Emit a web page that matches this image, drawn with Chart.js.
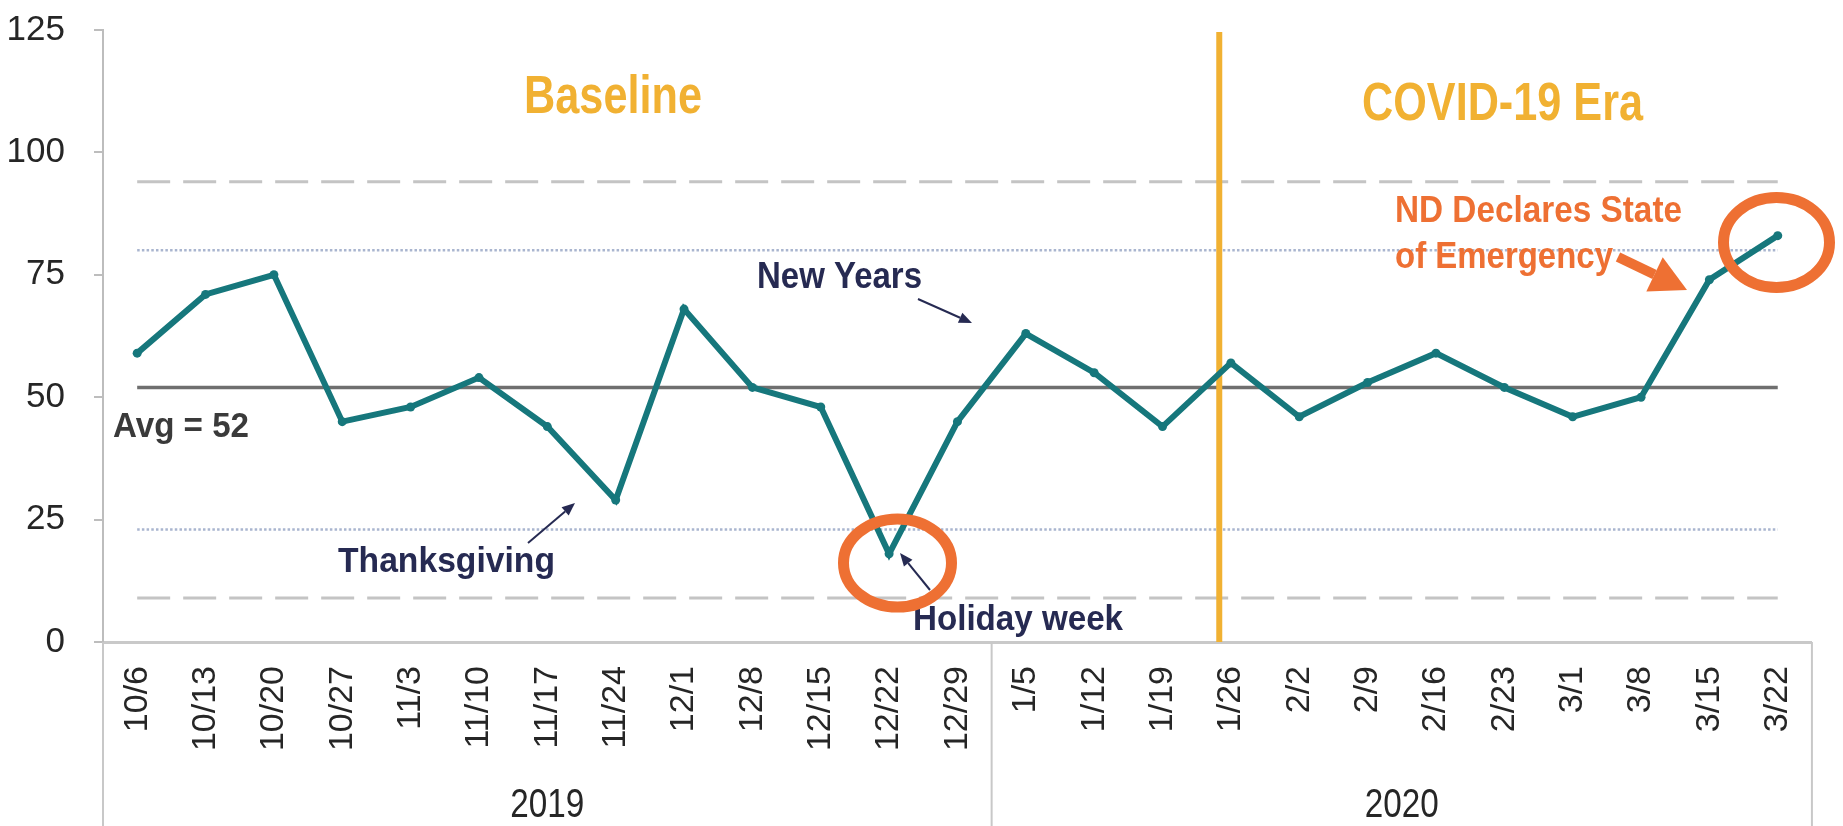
<!DOCTYPE html>
<html>
<head>
<meta charset="utf-8">
<script src="https://cdn.jsdelivr.net/npm/chart.js@4.4.1/dist/chart.umd.min.js"></script>
<style>
    html, body { margin: 0; padding: 0; background: #fff; }
    #wrap { width: 1843px; height: 826px; position: relative; }
</style>
</head>
<body>
<div id="wrap"><canvas id="visitsChart"></canvas></div>
<script>
(function() {
    'use strict';

    // weekly data, Oct 2019 - Mar 2020
    var weeks = ['10/6', '10/13', '10/20', '10/27', '11/3', '11/10', '11/17', '11/24', '12/1', '12/8', '12/15', '12/22', '12/29',
                 '1/5', '1/12', '1/19', '1/26', '2/2', '2/9', '2/16', '2/23', '3/1', '3/8', '3/15', '3/22'];
    var visits = [59, 71, 75, 45, 48, 54, 44, 29, 68, 52, 48, 18, 45,
                  63, 55, 44, 57, 46, 53, 59, 52, 46, 50, 74, 83];
    var years = ['2019', '2020'];
    var yearFirst = [0, 13];
    var yearLast = [12, 24];

    // control lines
    var avgValue = 52;
    var upperDashed = 94;
    var lowerDashed = 9;
    var upperDotted = 80;
    var lowerDotted = 23;

    var yMax = 125;
    var yStep = 25;

    var TEAL = '#16777C';
    var GOLD = '#F1B132';
    var ORANGE = '#EE7033';
    var NAVY = '#262A52';
    var FAMILY = '"Liberation Sans", Arial, sans-serif';

    // text squeezed to a given width (source uses a condensed face)
    function fitText(ctx, text, left, base, width, size, weight, color) {
        ctx.save();
        ctx.font = weight + ' ' + size + 'px ' + FAMILY;
        var w = ctx.measureText(text).width;
        ctx.translate(left, base);
        ctx.scale(width / w, 1);
        ctx.fillStyle = color;
        ctx.textAlign = 'left';
        ctx.textBaseline = 'alphabetic';
        ctx.fillText(text, 0, 0);
        ctx.restore();
    }

    function arrow(ctx, x1, y1, x2, y2, color, lw, headLen, headW) {
        var ang = Math.atan2(y2 - y1, x2 - x1);
        var bx = x2 - headLen * Math.cos(ang);
        var by = y2 - headLen * Math.sin(ang);
        ctx.save();
        ctx.strokeStyle = color;
        ctx.fillStyle = color;
        ctx.lineWidth = lw;
        ctx.beginPath();
        ctx.moveTo(x1, y1);
        ctx.lineTo(bx, by);
        ctx.stroke();
        ctx.beginPath();
        ctx.moveTo(x2, y2);
        ctx.lineTo(bx + headW * Math.sin(ang), by - headW * Math.cos(ang));
        ctx.lineTo(bx - headW * Math.sin(ang), by + headW * Math.cos(ang));
        ctx.closePath();
        ctx.fill();
        ctx.restore();
    }

    function ring(ctx, cx, cy, rx, ry) {
        ctx.save();
        ctx.strokeStyle = ORANGE;
        ctx.lineWidth = 11;
        ctx.beginPath();
        ctx.ellipse(cx, cy, rx, ry, 0, 0, Math.PI * 2);
        ctx.stroke();
        ctx.restore();
    }

    var annotate = {
        id: 'annotate',
        beforeDatasetsDraw: function(chart) {
            var ctx = chart.ctx;
            var xs = chart.scales.x;
            var ys = chart.scales.y;
            var area = chart.chartArea;
            var xa = xs.getPixelForValue(0);
            var xb = xs.getPixelForValue(weeks.length - 1);

            function hline(v, color, lw, dash) {
                var py = ys.getPixelForValue(v);
                ctx.save();
                ctx.strokeStyle = color;
                ctx.lineWidth = lw;
                ctx.setLineDash(dash);
                ctx.beginPath();
                ctx.moveTo(xa, py);
                ctx.lineTo(xb, py);
                ctx.stroke();
                ctx.restore();
            }

            hline(upperDashed, '#C4C4C4', 3, [33, 13]);
            hline(lowerDashed, '#C4C4C4', 3, [33, 13]);
            hline(upperDotted, '#A9B5CF', 2.5, [2.5, 2.2]);
            hline(lowerDotted, '#A9B5CF', 2.5, [2.5, 2.2]);
            hline(avgValue, '#6F6F6F', 3.5, []);

            // start of the COVID-19 era, just before the 1/26 week
            var cx = xs.getPixelForValue(15.83);
            ctx.save();
            ctx.strokeStyle = GOLD;
            ctx.lineWidth = 6;
            ctx.beginPath();
            ctx.moveTo(cx, ys.getPixelForValue(yMax) + 2);
            ctx.lineTo(cx, area.bottom);
            ctx.stroke();
            ctx.restore();
        },
        afterDraw: function(chart) {
            var ctx = chart.ctx;
            var xs = chart.scales.x;
            var area = chart.chartArea;
            var H = chart.height;

            // boxes round the year groups
            ctx.save();
            ctx.strokeStyle = '#C8C8C8';
            ctx.lineWidth = 2;
            [area.left, xs.getPixelForValue(12.5), area.right].forEach(function(px) {
                ctx.beginPath();
                ctx.moveTo(px, area.bottom);
                ctx.lineTo(px, H);
                ctx.stroke();
            });
            ctx.restore();

            years.forEach(function(yr, i) {
                var c = (xs.getPixelForValue(yearFirst[i]) + xs.getPixelForValue(yearLast[i])) / 2;
                fitText(ctx, yr, c - 37, 817, 74, 41, 'normal', '#262626');
            });

            // period titles
            fitText(ctx, 'Baseline', 524, 113, 178, 53, 'bold', GOLD);
            fitText(ctx, 'COVID-19 Era', 1362, 120, 281, 53, 'bold', GOLD);

            fitText(ctx, 'Avg = ' + avgValue, 113, 437, 136, 35, 'bold', '#3A3A3A');

            // holiday notes
            fitText(ctx, 'Thanksgiving', 338, 572, 217, 35, 'bold', NAVY);
            arrow(ctx, 528, 543, 575, 503, NAVY, 2, 13, 5.5);
            fitText(ctx, 'New Years', 757, 288, 165, 36, 'bold', NAVY);
            arrow(ctx, 918, 299, 972, 323, NAVY, 2, 13, 5.5);
            fitText(ctx, 'Holiday week', 913, 630, 210, 35, 'bold', NAVY);
            arrow(ctx, 930, 590, 900, 553, NAVY, 2, 13, 5.5);
            ring(ctx, 897.5, 563, 54, 44);

            // state of emergency
            fitText(ctx, 'ND Declares State', 1395, 222, 287, 37, 'bold', ORANGE);
            fitText(ctx, 'of Emergency', 1395, 268, 218, 37, 'bold', ORANGE);
            arrow(ctx, 1618, 257, 1687, 290, ORANGE, 10, 36, 19);
            ring(ctx, 1776.5, 242.5, 53, 45);
        }
    };

    var ctx = document.getElementById('visitsChart').getContext('2d');
    new Chart(ctx, {
        type: 'line',
        data: {
            labels: weeks,
            datasets: [{
                data: visits,
                borderColor: TEAL,
                backgroundColor: TEAL,
                borderWidth: 6,
                pointRadius: 4.5,
                pointHoverRadius: 4.5,
                pointBorderWidth: 0,
                tension: 0,
                fill: false
            }]
        },
        options: {
            responsive: true,
            maintainAspectRatio: false,
            animation: false,
            layout: {
                padding: { top: 30, right: 23, left: 0, bottom: 0 }
            },
            plugins: {
                legend: { display: false },
                tooltip: { enabled: false }
            },
            scales: {
                x: {
                    offset: true,
                    grid: { display: false, drawTicks: false },
                    border: { display: true, color: '#C9C9C9', width: 3 },
                    ticks: {
                        autoSkip: false,
                        minRotation: 90,
                        maxRotation: 90,
                        padding: 24,
                        color: '#262626',
                        font: { family: FAMILY, size: 34 }
                    },
                    afterFit: function(s) { s.height = 184; }
                },
                y: {
                    min: 0,
                    max: yMax,
                    ticks: {
                        stepSize: yStep,
                        padding: 29,
                        color: '#262626',
                        font: { family: FAMILY, size: 35 }
                    },
                    grid: {
                        drawOnChartArea: false,
                        tickLength: 9,
                        color: '#BDBDBD',
                        lineWidth: 2
                    },
                    border: { color: '#BDBDBD', width: 2 },
                    afterFit: function(s) {
                        s.width = 103;
                        // label padding is horizontal only; keep the plot top at the layout padding
                        s.paddingTop = 0;
                        s.paddingBottom = 0;
                    }
                }
            }
        },
        plugins: [annotate]
    });
})();
</script>
</body>
</html>
